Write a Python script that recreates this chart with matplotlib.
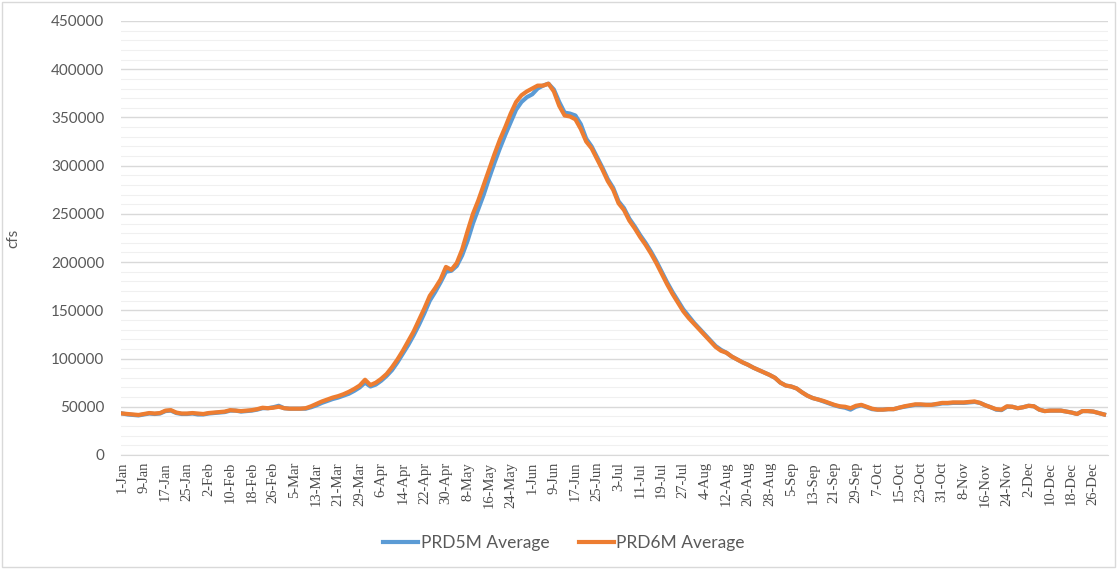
import numpy as np
import pandas as pd
import matplotlib
matplotlib.use("Agg")
import matplotlib.pyplot as plt
from matplotlib.ticker import MultipleLocator, FuncFormatter
from matplotlib.patches import Rectangle

# daily average flow, sampled every 2nd day of a leap year (thousand cfs)
day_step = 2
prd6m_k = [
    43, 42.5, 42, 41.5, 42.5, 43.5, 43, 43.5, 46, 46.5,
    44, 43, 43, 43.5, 43, 42.5, 43.5, 44, 44.5, 45,
    46.5, 46, 45.5, 46, 46.5, 47.5, 49, 48.5, 49, 50,
    48.5, 48, 48, 48, 48.5, 50.5, 53, 55.5, 57.5, 59.5,
    61, 63, 65.5, 68.5, 72, 78, 72.5, 75, 79, 84,
    91, 99, 108, 118, 128, 140, 152, 165, 173, 182,
    195, 192, 199, 213, 232, 250, 264, 280, 296, 312,
    327, 340, 354, 366, 373, 377, 380, 383, 383, 385,
    377, 362, 352, 351, 348, 338, 325, 318, 307, 296,
    284, 275, 261, 254, 243, 235, 226, 218, 209, 199,
    188, 177, 167, 158, 149, 142, 136, 130, 124, 118,
    112, 108, 106, 102, 99, 96, 93.5, 90.5, 88, 85.5,
    83, 80, 75, 72, 71, 69, 65, 61.5, 59, 57.5,
    56, 54, 52, 50.5, 50, 48.5, 51, 52, 50, 48,
    47, 47, 47.5, 47.5, 49, 50.5, 51.5, 52.5, 52.5, 52,
    52, 53, 54, 54, 54.5, 54.5, 54.5, 55, 55.5, 54,
    51.5, 49.5, 47.5, 47, 50.5, 50, 48.5, 49.5, 51, 50.5,
    47, 45.5, 46, 46, 46, 45, 44, 42.5, 45.5, 45.5,
    45, 43.5, 42,
]
prd5m_k = [
    43, 42, 41.5, 41, 42, 43, 42.5, 43, 45.5, 46,
    43.5, 42.5, 42.5, 43, 42, 42, 43, 43.5, 44, 44.5,
    46, 46, 45, 45.5, 46, 47, 48.5, 48.5, 49.5, 51,
    48.5, 48, 48, 48, 48, 49.5, 51.5, 54, 56, 58,
    59.5, 61.5, 63.5, 66.5, 70, 75, 71, 73, 77, 82,
    88, 96, 105, 114, 124, 135, 147, 160, 169, 179,
    190, 191, 196, 207, 222, 240, 255, 270, 287, 303,
    318, 332, 345, 358, 366, 371, 374, 380, 383, 385,
    379, 366, 355, 354, 352, 343, 328, 320, 309, 298,
    286, 277, 263, 256, 245, 237, 228, 220, 211, 201,
    190, 179, 169, 160, 151, 144, 137, 131, 125, 119,
    113, 109, 106, 102, 99, 96, 93.5, 90.5, 88, 85.5,
    83, 80, 75, 72, 71, 69, 65, 61.5, 59, 57.5,
    55.5, 53.5, 51.5, 50, 49, 47, 50, 51.5, 49.5, 47.5,
    47, 47, 47.5, 47.5, 49, 50, 51, 52, 52, 52,
    52, 52.5, 53.5, 53.5, 54, 54, 54, 54.5, 55, 54,
    51.5, 49.5, 47, 46.5, 50, 50, 48.5, 49.5, 51, 50.5,
    47, 45.5, 46, 46, 46, 45, 44, 42.5, 45.5, 45.5,
    45, 43.5, 42,
]
labels = ['PRD5M Average', 'PRD6M Average']
colors = ['#5B9BD5', '#ED7D31']

dates = pd.date_range('2020-01-01', '2020-12-31', freq='D')
tick_every = 8
tick_pos = np.arange(0, len(dates), tick_every)
tick_labels = ['%d-%s' % (dates[i].day, dates[i].strftime('%b')) for i in tick_pos]

days = np.arange(0, len(dates), day_step)
prd5m = np.array(prd5m_k) * 1000.
prd6m = np.array(prd6m_k) * 1000.

txt = '#595959'
fig = plt.figure(figsize=(11.17, 5.69), dpi=100)
ax = fig.add_axes([0.1083, 0.2004, 0.8837, 0.7627])

ax.plot(days, prd5m, color=colors[0], lw=3.0, label=labels[0], zorder=3,
        solid_joinstyle='round')
ax.plot(days, prd6m, color=colors[1], lw=3.0, label=labels[1], zorder=4,
        solid_joinstyle='round')

ax.set_xlim(-0.5, len(dates) - 0.5)
ax.set_ylim(0, 450000)
ax.yaxis.set_major_locator(MultipleLocator(50000))
ax.yaxis.set_minor_locator(MultipleLocator(10000))
ax.yaxis.set_major_formatter(FuncFormatter(lambda v, p: '%d' % v))
ax.grid(which='major', axis='y', color='#D9D9D9', lw=1.0, zorder=0)
ax.grid(which='minor', axis='y', color='#F0F0F0', lw=0.8, zorder=0)
ax.set_axisbelow(True)
for sp in ['top', 'right', 'left']:
    ax.spines[sp].set_visible(False)
ax.spines['bottom'].set_color('#D9D9D9')
ax.tick_params(which='both', length=0)
ax.tick_params(axis='y', labelsize=11, labelcolor=txt, pad=12)
for lab in ax.get_yticklabels():
    lab.set_family('Lato')

ax.set_xticks(tick_pos)
ax.set_xticklabels(tick_labels, rotation=90, fontsize=10.5, color='#4a4a4a',
                   family='Liberation Serif')
ax.tick_params(axis='x', pad=5)

ax.set_ylabel('cfs', fontsize=11, color=txt, family='Lato', labelpad=22)

fig.legend(loc='center', bbox_to_anchor=(0.505, 0.046), ncol=2, frameon=False,
           handlelength=2.0, handletextpad=0.15, columnspacing=1.7,
           prop={'family': 'Lato', 'size': 12.5}, labelcolor=txt)

fig.patches.append(Rectangle((0.002, 0.003), 0.996, 0.994, transform=fig.transFigure,
                             fill=False, edgecolor='#D9D9D9', lw=1.0))

fig.savefig('out.png', dpi=100)
